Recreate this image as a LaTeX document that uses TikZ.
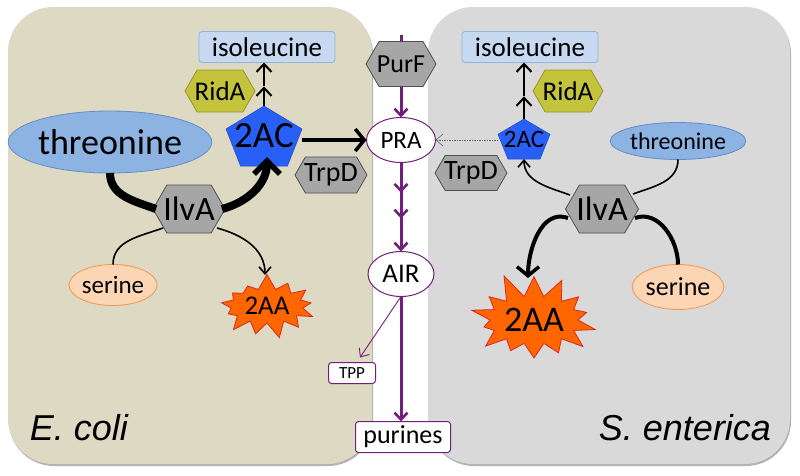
\documentclass[tikz,border=0pt]{standalone}
\usepackage{fontspec}
\setmainfont{Carlito}
\newfontfamily\arialfont{Liberation Sans}
\usetikzlibrary{arrows.meta,shapes.geometric,shapes.symbols,calc,decorations.markings}
\definecolor{tanbg}{RGB}{221,217,195}
\definecolor{graybg}{RGB}{217,217,217}
\definecolor{isofill}{RGB}{198,217,241}
\definecolor{isodraw}{RGB}{149,179,215}
\definecolor{thrfill}{RGB}{141,179,226}
\definecolor{thrdraw}{RGB}{100,140,200}
\definecolor{acblue}{RGB}{40,95,245}
\definecolor{ridfill}{RGB}{196,196,60}
\definecolor{riddraw}{RGB}{150,150,40}
\definecolor{hexgray}{RGB}{166,166,166}
\definecolor{hexdraw}{RGB}{80,80,80}
\definecolor{serfill}{RGB}{252,213,181}
\definecolor{serdraw}{RGB}{240,150,80}
\definecolor{aafill}{RGB}{255,102,0}
\definecolor{aadraw}{RGB}{220,40,30}
\definecolor{purp}{RGB}{112,32,120}
\newcommand\fs[1]{\fontsize{#1}{#1}\selectfont}
% name, x, y, w, h, style, text
\newcommand\hexnode[7]{%
  \filldraw[#6] ({#2-#4/2},#3) -- ({#2-#4/2+0.2887*#5},{#3-#5/2}) -- ({#2+#4/2-0.2887*#5},{#3-#5/2}) -- ({#2+#4/2},#3) -- ({#2+#4/2-0.2887*#5},{#3+#5/2}) -- ({#2-#4/2+0.2887*#5},{#3+#5/2}) -- cycle;
  \node[minimum width=#4pt, minimum height=#5pt] (#1) at (#2,#3) {#7};}
% name, x, y, w, h, text
\newcommand\pentnode[6]{%
  \filldraw[pentS] (#2,{#3-#5/2}) -- ({#2+#4/2},{#3-#5/2+0.382*#5}) -- ({#2+#4/2-0.191*#4},{#3+#5/2}) -- ({#2-#4/2+0.191*#4},{#3+#5/2}) -- ({#2-#4/2},{#3-#5/2+0.382*#5}) -- cycle;
  \node[minimum width=#4pt, minimum height=#5pt] (#1) at (#2,#3) {#6};}
\tikzset{
  every node/.style={inner sep=0pt, outer sep=0pt},
  isobox/.style={rectangle, rounded corners=3pt, draw=isodraw, fill=isofill, line width=0.8pt, minimum width=136pt, minimum height=31pt, font=\fs{27}},
  thrS/.style={ellipse, draw=thrdraw, fill=thrfill, line width=0.8pt},
  serS/.style={ellipse, draw=serdraw, fill=serfill, line width=0.8pt},
  aaS/.style={starburst, draw=aadraw, fill=aafill, line width=0.8pt},
  purpnode/.style={draw=purp, fill=white, line width=1pt},
  hexS/.style={fill=hexgray, draw=hexdraw, line width=0.8pt},
  ridS/.style={fill=ridfill, draw=riddraw, line width=0.8pt},
  pentS/.style={fill=acblue, draw=acblue!80!black, line width=0.5pt},
  species/.style={font=\arialfont\itshape\fs{36}},
  BigChev/.tip={Straight Barb[length=13pt,width=26pt,line width=5.5pt]},
  MedChev/.tip={Straight Barb[length=9pt,width=22pt,line width=3.5pt]},
  SmallChev/.tip={Straight Barb[length=8pt,width=15pt]},
  PurChev/.tip={Straight Barb[length=7pt,width=13pt,line width=2.6pt]},
  ThinChev/.tip={Straight Barb[length=7pt,width=12pt]},
  thickL/.style={line width=8pt},
  medL/.style={line width=4pt},
  thinL/.style={line width=1.6pt},
  dblL/.style={line width=2pt, -SmallChev},
  dashL/.style={line width=0.6pt, draw=black!60, dash pattern=on 1.5pt off 1pt, -ThinChev},
  purpL/.style={line width=3pt, draw=purp},
  purpT/.style={line width=0.9pt, draw=purp, -ThinChev},
}
\begin{document}
\begin{tikzpicture}[x=1pt,y=-1pt]
\useasboundingbox (0,0) rectangle (800,475);
% panels
\fill[black!30, rounded corners=45pt] (9,9) rectangle (373,466);
\fill[tanbg, rounded corners=45pt] (8,7) rectangle (372,464);
\fill[black!30, rounded corners=45pt] (429,9) rectangle (791,466);
\fill[graybg, rounded corners=45pt] (428,7) rectangle (790,464);

% ---------- left panel (E. coli)
\node[isobox] (isoL) at (267,47) {isoleucine};
\hexnode{ridL}{220}{91}{70}{42}{ridS}{\fs{27}RidA}
\pentnode{acL}{264}{136}{76}{60}{\raisebox{-2pt}{\fs{37}2AC}}
\node[thrS, minimum width=174pt, minimum height=62pt] (thrL) at (110,142) {\fs{36}threonine};
\hexnode{ilvL}{189}{209}{72}{48}{hexS}{\fs{34}IlvA}
\hexnode{trpL}{331}{175}{72}{36}{hexS}{\fs{28}TrpD}
\node[serS, minimum width=83pt, minimum height=41pt] (serL) at (113,285) {\fs{25}serine};
\node[aaS, minimum width=104pt, minimum height=66pt, starburst points=13, starburst point height=16pt, random starburst=7] (aaL) at (267,306) {\fs{27}2AA};
\node[species] (ecoli) at (79,428) {E. coli};

% ---------- middle
\coordinate (ptop) at (401,35);
\draw[purpL] (ptop) -- (401,50);
\hexnode{purf}{401}{64}{70}{45}{hexS}{\fs{26}PurF}
\node[ellipse, purpnode, minimum width=69pt, minimum height=45pt] (pra) at (401,140) {\fs{25}PRA};
\node[ellipse, purpnode, minimum width=66pt, minimum height=45pt] (air) at (401,274) {\fs{27}AIR};
\node[rectangle, rounded corners=3pt, purpnode, minimum width=47pt, minimum height=21pt] (tpp) at (352,373) {\fs{17}TPP};
\node[rectangle, rounded corners=3pt, purpnode, minimum width=95pt, minimum height=31pt] (pur) at (403,437) {\fs{26}purines};

% ---------- right panel (S. enterica)
\node[isobox] (isoR) at (530,47) {isoleucine};
\hexnode{ridR}{568}{91}{70}{42}{ridS}{\fs{27}RidA}
\pentnode{acR}{524}{139}{52}{40}{\raisebox{-2pt}{\fs{25}2AC}}
\hexnode{trpR}{471}{173}{72}{35}{hexS}{\fs{28}TrpD}
\node[thrS, minimum width=123pt, minimum height=37pt] (thrR) at (678,141) {\fs{24}threonine};
\hexnode{ilvR}{602}{209}{73}{48}{hexS}{\fs{34}IlvA}
\node[serS, minimum width=91pt, minimum height=45pt] (serR) at (678,287) {\fs{26}serine};
\node[aaS, minimum width=140pt, minimum height=100pt, starburst points=14, starburst point height=26pt, random starburst=11] (aaR) at (534,320) {\fs{36}2AA};
\node[species] (sent) at (685,428) {S. enterica};

% ---------- connectors left
\draw[thickL] (thrL.south) to[out=-90,in=160] ($(ilvL.west)+(3,0)$);
\draw[thickL, -BigChev] ($(ilvL.east)+(-3,0)$) to[out=15,in=-90] ($(acL.south)+(3,-9)$);
\draw[thinL] (serL.north) to[out=90,in=200] ($(ilvL.center)+(-26,19)$);
\draw[thinL, -ThinChev] ($(ilvL.center)+(28,19)$) to[out=-15,in=90] ($(aaL.center)+(-2,-31)$);
\draw[medL, -MedChev] (acL.east |- pra.west) -- (pra.west);
\coordinate (midL) at ($(acL.north)!0.45!(acL.north |- isoL.south)$);
\draw[dblL] (acL.north) -- (midL);
\draw[dblL] (midL) -- (acL.north |- isoL.south);

% ---------- connectors right
\draw[thinL, -ThinChev] ($(ilvR.center)+(-32,-14)$) to[out=160,in=-90] (acR.south);
\draw[thinL] (thrR.south) to[out=-90,in=20] ($(ilvR.center)+(31,-15)$);
\draw[medL, -MedChev] ($(ilvR.center)+(-34,9)$) to[out=160,in=90] ($(aaR.center)+(-6,-42)$);
\draw[medL] ($(ilvR.center)+(33,9)$) to[out=20,in=90] (serR.north);
\draw[dashL] (acR.west |- pra.east) -- (pra.east);
\coordinate (midR) at ($(acR.north)!0.4!(acR.north |- isoR.south)$);
\draw[dblL] (acR.north) -- (midR);
\draw[dblL] (midR) -- (acR.north |- isoR.south);

% ---------- purple pathway
\draw[purpL, -PurChev] (purf.south) -- (pra.north);
\draw[purpL, -PurChev, decoration={markings, mark=at position 0.34 with {\arrow{PurChev}}, mark=at position 0.63 with {\arrow{PurChev}}}, postaction={decorate}] (pra.south) -- (air.north);
\draw[purpL, -PurChev] (air.south) -- (air.south |- pur.north);
\draw[purpT] (air.south) -- ($(tpp.north)+(8,-5)$);
\end{tikzpicture}
\end{document}
